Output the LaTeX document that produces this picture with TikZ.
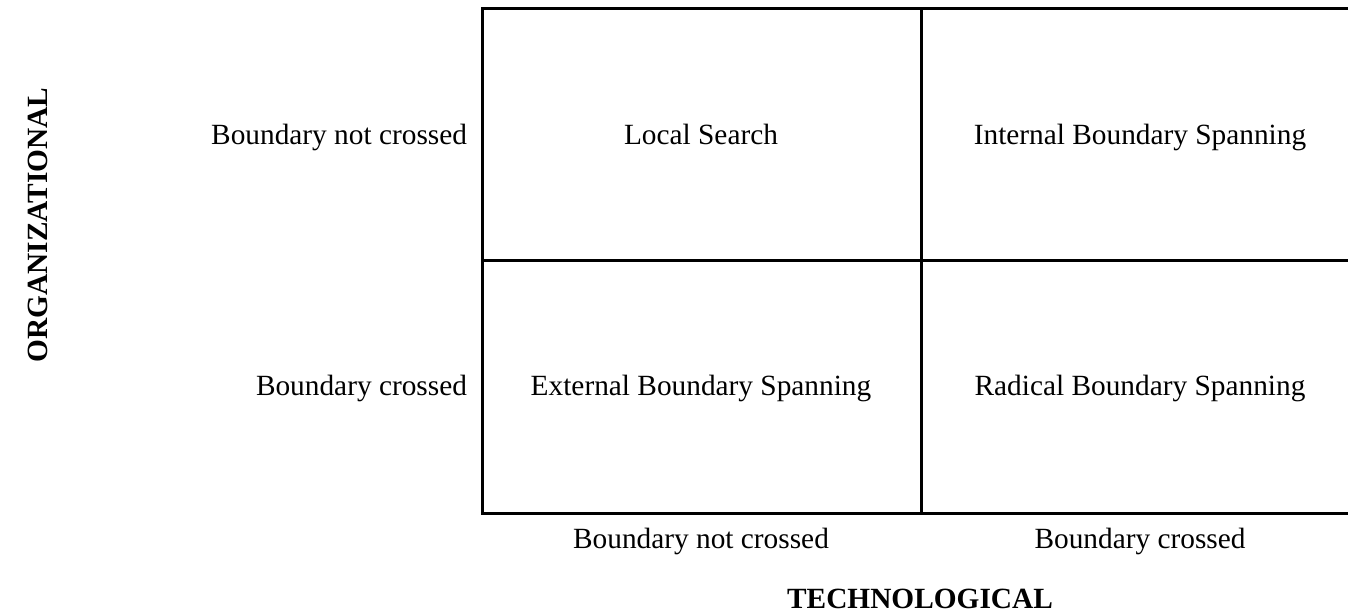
\documentclass[tikz,border=0pt]{standalone}
\usepackage{fontspec}
\setmainfont{Liberation Serif}
\begin{document}
\begin{tikzpicture}[x=0.75pt,y=-0.75pt,
  every node/.style={inner sep=0pt,outer sep=0pt,font=\fontsize{22}{26}\selectfont},
  grid/.style={draw=black,line width=2.25pt},
  celltext/.style={anchor=base},
  axis/.style={font=\fontsize{22}{26}\selectfont\bfseries}]
\useasboundingbox (0,0) rectangle (1348,616);
% grid corners
\coordinate (tl) at (482,9);
\coordinate (tm) at (921,9);
\coordinate (ml) at (482,261);
\coordinate (mm) at (921,261);
\coordinate (mr) at (1350,261);
\coordinate (bm) at (921,513);
\coordinate (br) at (1350,513);
\draw[grid] (tl) rectangle (br);
\draw[grid] (tm) -- (bm);
\draw[grid] (ml) -- (mr);
% cell texts
\node[celltext] (ls) at (701,145) {Local Search};
\node[celltext] (ibs) at (1140,145) {Internal Boundary Spanning};
\node[celltext] (ebs) at (701,395) {External Boundary Spanning};
\node[celltext] (rbs) at (1140,395) {Radical Boundary Spanning};
% row labels
\node[anchor=base east] (rn) at (467,145) {Boundary not crossed};
\node[anchor=base east] (rc) at (467,395) {Boundary crossed};
% column labels
\node[celltext] (cn) at (701,548) {Boundary not crossed};
\node[celltext] (cc) at (1140,548) {Boundary crossed};
% axis titles
\node[axis,anchor=base] (tech) at (920,608) {TECHNOLOGICAL};
\node[axis,anchor=base,rotate=90] (org) at (47,225) {ORGANIZATIONAL};
\end{tikzpicture}
\end{document}
